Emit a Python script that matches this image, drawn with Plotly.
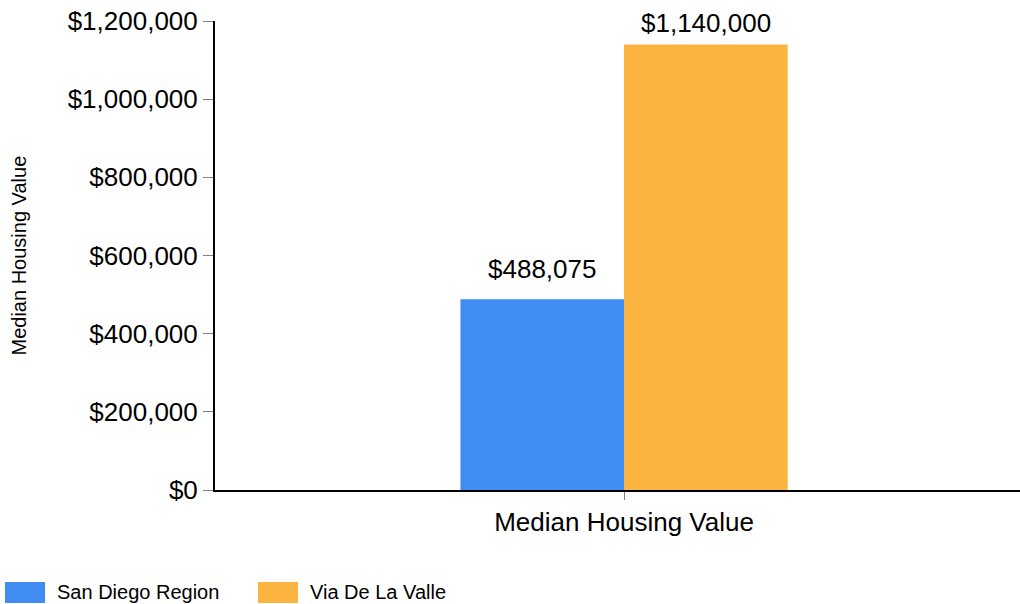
import plotly.graph_objects as go

categories = ["Median Housing Value"]
series_names = ["San Diego Region", "Via De La Valle"]
san_diego_values = [488075]
via_de_la_valle_values = [1140000]
series_colors = ["#418CF0", "#FCB441"]
y_tick_values = [0, 200000, 400000, 600000, 800000, 1000000, 1200000]
y_tick_labels = ["$0", "$200,000", "$400,000", "$600,000", "$800,000", "$1,000,000", "$1,200,000"]

W, H = 1020, 604
ML, MR, MT, MB = 215, 0, 21, 114
PW, PH = W - ML - MR, H - MT - MB
FONT = "Liberation Sans, Arial, sans-serif"
Y_MAX = 1200000
BARGAP = 0.6

def px_x(p):
    return (p - ML) / PW

def px_y(p):
    return (H - MB - p) / PH

fig = go.Figure()
all_values = [san_diego_values, via_de_la_valle_values]
for name, vals, col in zip(series_names, all_values, series_colors):
    fig.add_trace(go.Bar(
        x=categories, y=vals, name=name, marker=dict(color=col, line=dict(width=0)),
        hoverinfo="skip", showlegend=False,
    ))

shapes = []
annotations = []

# value labels above bars (kept inside the top of the figure like the reference)
n = len(series_names)
bw = (1 - BARGAP) / n
for i, vals in enumerate(all_values):
    for j, v in enumerate(vals):
        xc = j - (1 - BARGAP) / 2 + bw * (i + 0.5)
        bar_top_px = (H - MB) - v / Y_MAX * PH
        shift = min(30, bar_top_px - 23)
        annotations.append(dict(xref="x", yref="y", x=xc, y=v, yshift=shift,
                                text="$" + format(v, ",.0f"), showarrow=False,
                                xanchor="center", yanchor="middle",
                                font=dict(size=26, color="black", family=FONT)))

legend_x = [5, 258]
for i, (name, col) in enumerate(zip(series_names, series_colors)):
    x0 = legend_x[i]
    shapes.append(dict(type="rect", xref="paper", yref="paper",
                       x0=px_x(x0), x1=px_x(x0 + 40), y0=px_y(582), y1=px_y(603),
                       fillcolor=col, line=dict(width=0)))
    annotations.append(dict(xref="paper", yref="paper", x=px_x(x0 + 50), y=px_y(592),
                            text=name, showarrow=False, xanchor="left", yanchor="middle",
                            font=dict(size=20, color="black", family=FONT)))

annotations.append(dict(xref="paper", yref="paper", x=px_x(18), y=0.5,
                        text="Median Housing Value", textangle=-90, showarrow=False,
                        xanchor="center", yanchor="middle",
                        font=dict(size=20, color="black", family=FONT)))

fig.update_layout(
    width=W, height=H,
    margin=dict(l=ML, r=MR, t=MT, b=MB, pad=0),
    paper_bgcolor="white", plot_bgcolor="white",
    barmode="group", bargap=BARGAP, bargroupgap=0,
    font=dict(family=FONT, color="black"),
    shapes=shapes, annotations=annotations,
    showlegend=False,
    xaxis=dict(type="category", range=[-0.5, 0.484], showline=True, linecolor="black", linewidth=2,
               ticks="outside", ticklen=8, tickcolor="#808080", tickwidth=1,
               tickfont=dict(size=26, color="black", family=FONT), showgrid=False, zeroline=False),
    yaxis=dict(range=[0, Y_MAX], tickvals=y_tick_values, ticktext=y_tick_labels,
               showline=True, linecolor="black", linewidth=2,
               ticks="outside", ticklen=10, tickcolor="#808080", tickwidth=1,
               tickfont=dict(size=26, color="black", family=FONT),
               showgrid=False, zeroline=False),
)

fig.write_html("out.html", config={"displayModeBar": False, "staticPlot": True},
               post_script="document.body.style.margin='0px';document.body.style.overflow='hidden';")
